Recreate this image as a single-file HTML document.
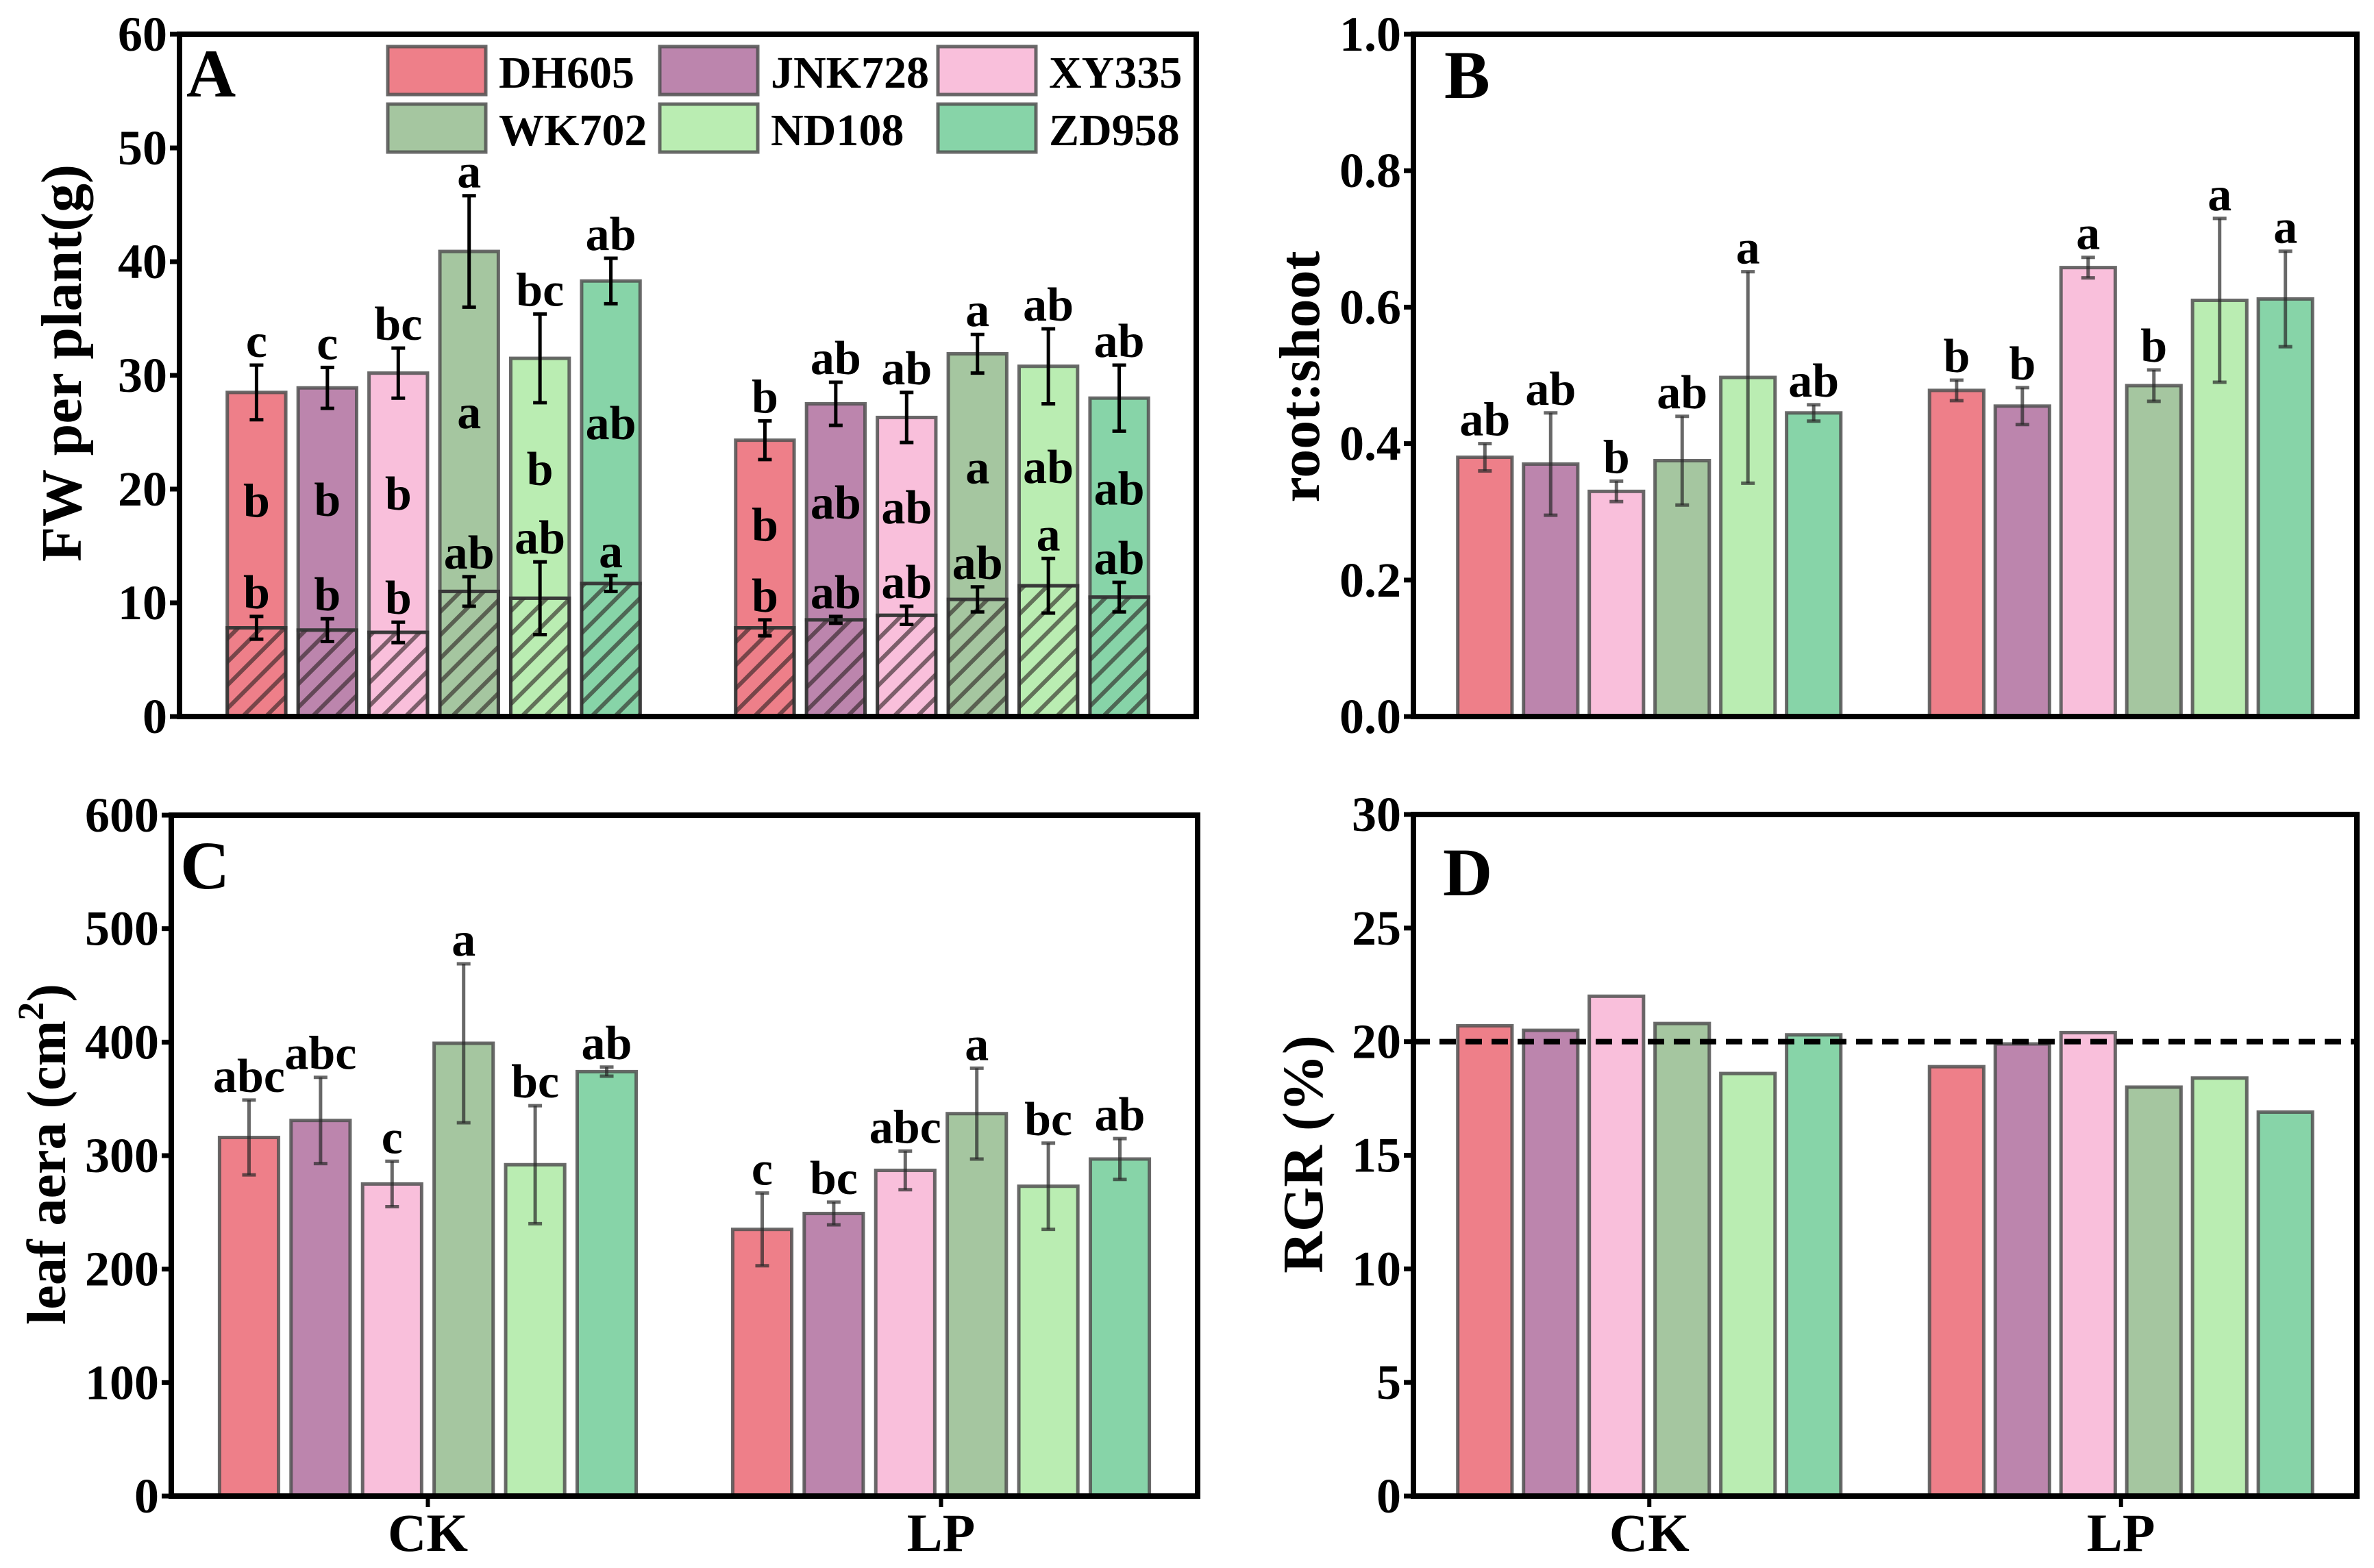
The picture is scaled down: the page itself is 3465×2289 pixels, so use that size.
<!DOCTYPE html>
<html><head><meta charset="utf-8">
<style>
html,body{margin:0;padding:0;background:#fff;}
svg{display:block;}
svg text{font-family:"Liberation Serif","DejaVu Serif",serif;font-weight:bold;fill:#000;}
</style></head>
<body>
<svg id="fig" width="3465" height="2289" viewBox="0 0 3465 2289" xmlns="http://www.w3.org/2000/svg" font-family="'Liberation Serif', 'DejaVu Serif', serif" font-weight="bold">
<defs>
<pattern id="hatch" patternUnits="userSpaceOnUse" width="24" height="24" patternTransform="rotate(45)">
<line x1="6" y1="0" x2="6" y2="24" stroke="rgba(40,30,30,0.6)" stroke-width="6"/>
</pattern>
</defs>
</svg>
<script>
// ---------- data ----------
const categories = ["CK","LP"];
const cultivars = ["DH605","JNK728","XY335","WK702","ND108","ZD958"];
const colors = ["#ee7f89","#bc85ad","#f9bfdb","#a5c6a0","#baedb2","#87d4a8"];

// Panel A: total FW and lower (root) FW
const aTotalCK = [28.5,28.9,30.2,40.9,31.5,38.3];
const aTotalCKErr = [2.4,1.8,2.2,4.9,3.9,2.0];
const aTotalLP = [24.3,27.5,26.3,31.9,30.8,28.0];
const aTotalLPErr = [1.7,1.9,2.2,1.7,3.3,2.9];
const aLowCK = [7.8,7.6,7.4,11.0,10.4,11.7];
const aLowCKErr = [1.0,1.0,0.9,1.3,3.2,0.7];
const aLowLP = [7.8,8.5,8.9,10.3,11.5,10.5];
const aLowLPErr = [0.7,0.3,0.8,1.1,2.4,1.3];
const aTopLetCK = ["c","c","bc","a","bc","ab"];
const aTopLetLP = ["b","ab","ab","a","ab","ab"];
const aMidLetCK = ["b","b","b","a","b","ab"];
const aMidLetLP = ["b","ab","ab","a","ab","ab"];
const aLowLetCK = ["b","b","b","ab","ab","a"];
const aLowLetLP = ["b","ab","ab","ab","a","ab"];
const aTicks = [0,10,20,30,40,50,60];

// Panel B: root:shoot
const bCK = [0.38,0.37,0.33,0.375,0.497,0.445];
const bCKErr = [0.02,0.075,0.015,0.065,0.155,0.012];
const bLP = [0.478,0.455,0.658,0.485,0.61,0.612];
const bLPErr = [0.015,0.027,0.015,0.023,0.12,0.07];
const bLetCK = ["ab","ab","b","ab","a","ab"];
const bLetLP = ["b","b","a","b","a","a"];
const bTicks = ["0.0","0.2","0.4","0.6","0.8","1.0"];

// Panel C: leaf area
const cCK = [316,331,275,399,292,374];
const cCKErr = [33,38,20,70,52,4];
const cLP = [235,249,287,337,273,297];
const cLPErr = [32,10,17,40,38,18];
const cLetCK = ["abc","abc","c","a","bc","ab"];
const cLetLP = ["c","bc","abc","a","bc","ab"];
const cTicks = [0,100,200,300,400,500,600];

// Panel D: RGR
const dCK = [20.7,20.5,22.0,20.8,18.6,20.3];
const dLP = [18.9,19.9,20.4,18.0,18.4,16.9];
const dRef = 20;
const dTicks = [0,5,10,15,20,25,30];

// ---------- drawing ----------
const svg = document.getElementById('fig');
const NS = 'http://www.w3.org/2000/svg';
function mk(tag, attrs, parent){
  const e = document.createElementNS(NS, tag);
  for (const k in attrs) e.setAttribute(k, attrs[k]);
  (parent||svg).appendChild(e);
  return e;
}
function txt(s, x, y, size, anchor, parent){
  const t = mk('text', {x:x, y:y, 'font-size':size, 'text-anchor':anchor||'middle'}, parent);
  t.textContent = s;
  return t;
}

function makePanel(id, x0, x1, yTop, yBot, vmax){
  const g = mk('g', {});
  
  
  const W = x1 - x0;
  const p = {g, x0, x1, yTop, yBot, W,
    y: v => yBot - v / vmax * (yBot - yTop),
    xc: (ci, i) => x0 + W * (0.25 + ci * 0.5 + (i - 2.5) * 0.0697),
    bw: W * 0.0575};
  return p;
}
function drawFrame(p, ticks, tickVals, letter, letterX, letterY, showX){
  const fr = mk('rect', {x:p.x0, y:p.yTop, width:p.W, height:p.yBot-p.yTop, fill:'none', stroke:'#000', 'stroke-width':8}, p.g);
  
  
  ticks.forEach((t, i) => {
    const yy = p.y(tickVals[i]);
    const tk = mk('line', {x1:p.x0-14, x2:p.x0, y1:yy, y2:yy, stroke:'#000', 'stroke-width':7}, p.g);
    
    
    const tl = txt(t, p.x0-18, yy+24, 72, 'end', p.g);
    
    
  });
  const pl = txt(letter, letterX, letterY, 100, 'start', p.g);
  
  
  if (showX){
    categories.forEach((c, ci) => {
      const xx = p.x0 + p.W * (0.25 + ci * 0.5);
      const tk = mk('line', {x1:xx, x2:xx, y1:p.yBot, y2:p.yBot+16, stroke:'#000', 'stroke-width':6}, p.g);
      
      
      const tl = txt(c, xx, p.yBot+80, 78, 'middle', p.g);
      
      
    });
  }
}
function bar(p, ci, i, v0, v1, fill, name){
  const r = mk('rect', {x:p.xc(ci,i)-p.bw/2, y:p.y(v1), width:p.bw, height:p.y(v0)-p.y(v1), fill:fill, stroke:'rgba(80,80,80,0.85)', 'stroke-width':5}, p.g);
  
  
  return r;
}
function err(p, ci, i, v, e, color){
  const xx = p.xc(ci,i);
  const g = mk('g', {stroke:color, 'stroke-width':5}, p.g);
  
  
  mk('line', {x1:xx, x2:xx, y1:p.y(v-e), y2:p.y(v+e)}, g);
  mk('line', {x1:xx-10, x2:xx+10, y1:p.y(v-e), y2:p.y(v-e)}, g);
  mk('line', {x1:xx-10, x2:xx+10, y1:p.y(v+e), y2:p.y(v+e)}, g);
}
function lab(p, ci, i, s, yPix){
  const t = txt(s, p.xc(ci,i), yPix, 70, 'middle', p.g);
  
  
}
function ytitle(s, x, y, size, parent){
  const t = mk('text', {x:0, y:0, 'font-size':size, 'text-anchor':'middle', transform:`translate(${x},${y}) rotate(-90)`}, parent);
  t.textContent = s;
  
  
  return t;
}

// Panel A
const pA = makePanel('a', 262, 1746, 50, 1046, 60);
[[aTotalCK,aTotalCKErr,aLowCK,aLowCKErr,aTopLetCK,aMidLetCK,aLowLetCK],
 [aTotalLP,aTotalLPErr,aLowLP,aLowLPErr,aTopLetLP,aMidLetLP,aLowLetLP]].forEach((d, ci) => {
  cultivars.forEach((c, i) => {
    bar(pA, ci, i, d[2][i], d[0][i], colors[i], 'bar-total-' + c.toLowerCase() + '-' + categories[ci].toLowerCase());
    bar(pA, ci, i, 0, d[2][i], colors[i], 'bar-root-' + c.toLowerCase() + '-' + categories[ci].toLowerCase());
    const h = mk('rect', {x:pA.xc(ci,i)-pA.bw/2, y:pA.y(d[2][i]), width:pA.bw, height:pA.y(0)-pA.y(d[2][i]), fill:'url(#hatch)', stroke:'rgba(50,50,50,0.8)', 'stroke-width':5}, pA.g);
    
    
    err(pA, ci, i, d[0][i], d[1][i], '#000');
    err(pA, ci, i, d[2][i], d[3][i], '#000');
    lab(pA, ci, i, d[4][i], pA.y(d[0][i]+d[1][i]) - 12);
    lab(pA, ci, i, d[5][i], pA.y((d[0][i]+d[2][i])/2) + 10);
    lab(pA, ci, i, d[6][i], pA.y(d[2][i]+d[3][i]) - 12);
  });
});
drawFrame(pA, aTicks.map(String), aTicks, 'A', 272, 141, false);
ytitle('FW per plant(g)', 118, 530, 84, pA.g);
// legend
const leg = mk('g', {}, pA.g);


const legX = [566, 963, 1369], legY = [68, 152];
cultivars.forEach((c, i) => {
  const col = i % 3, row = Math.floor(i / 3);
  const it = mk('g', {}, leg);
  
  
  mk('rect', {x:legX[col], y:legY[row], width:143, height:70, fill:colors[i], stroke:'rgba(80,80,80,0.85)', 'stroke-width':5}, it);
  txt(c, legX[col]+162, legY[row]+60, 66, 'start', it);
});

// Panel B
const pB = makePanel('b', 2063, 3440, 50, 1046, 1.0);
[[bCK,bCKErr,bLetCK],[bLP,bLPErr,bLetLP]].forEach((d, ci) => {
  cultivars.forEach((c, i) => {
    bar(pB, ci, i, 0, d[0][i], colors[i], 'bar-' + c.toLowerCase() + '-' + categories[ci].toLowerCase());
    err(pB, ci, i, d[0][i], d[1][i], 'rgba(40,40,40,0.7)');
    lab(pB, ci, i, d[2][i], pB.y(d[0][i]+d[1][i]) - 12);
  });
});
drawFrame(pB, bTicks, bTicks.map(Number), 'B', 2108, 143, false);
ytitle('root:shoot', 1925, 550, 84, pB.g);

// Panel C
const pC = makePanel('c', 250, 1748, 1190, 2184, 600);
[[cCK,cCKErr,cLetCK],[cLP,cLPErr,cLetLP]].forEach((d, ci) => {
  cultivars.forEach((c, i) => {
    bar(pC, ci, i, 0, d[0][i], colors[i], 'bar-' + c.toLowerCase() + '-' + categories[ci].toLowerCase());
    err(pC, ci, i, d[0][i], d[1][i], 'rgba(40,40,40,0.7)');
    lab(pC, ci, i, d[2][i], pC.y(d[0][i]+d[1][i]) - 12);
  });
});
drawFrame(pC, cTicks.map(String), cTicks, 'C', 263, 1297, true);
const ctitle = mk('text', {x:0, y:0, 'font-size':80, 'text-anchor':'middle', transform:'translate(95,1685) rotate(-90)'}, pC.g);


ctitle.innerHTML = 'leaf aera (cm<tspan dy="-32" font-size="54">2</tspan><tspan dy="32">)</tspan>';

// Panel D
const pD = makePanel('d', 2063, 3440, 1189, 2184, 30);
[dCK, dLP].forEach((d, ci) => {
  cultivars.forEach((c, i) => {
    bar(pD, ci, i, 0, d[i], colors[i], 'bar-' + c.toLowerCase() + '-' + categories[ci].toLowerCase());
  });
});
const ref = mk('line', {x1:pD.x0, x2:pD.x1, y1:pD.y(dRef), y2:pD.y(dRef), stroke:'#000', 'stroke-width':8, 'stroke-dasharray':'24 14'}, pD.g);


drawFrame(pD, dTicks.map(String), dTicks, 'D', 2106, 1307, true);
ytitle('RGR (%)', 1930, 1685, 84, pD.g);
</script>
</body></html>
